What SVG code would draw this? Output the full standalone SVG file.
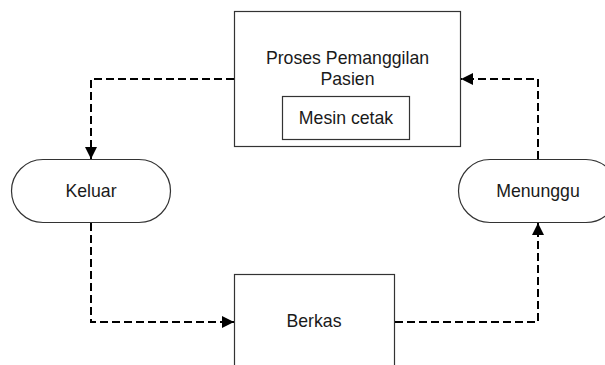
<svg xmlns="http://www.w3.org/2000/svg" width="605" height="365" viewBox="0 0 605 365">
  <style>
    .box { fill: #ffffff; stroke: #333333; stroke-width: 1.2; }
    .lbl { font-family: "Liberation Sans", Arial, sans-serif; font-size: 17.7px; fill: #1a1a1a; text-anchor: middle; }
    .flow { fill: none; stroke: #000000; stroke-width: 2; stroke-dasharray: 8 4; }
  </style>
  <defs>
    <marker id="arrow" viewBox="0 0 12 12" refX="12" refY="6" markerWidth="12" markerHeight="12" markerUnits="userSpaceOnUse" orient="auto">
      <path d="M0,0 L12,6 L0,12 Z" fill="#000000"/>
    </marker>
  </defs>
  <rect width="605" height="365" fill="#ffffff"/>

  <g id="proses-pemanggilan">
    <rect class="box" x="234.5" y="11.5" width="226" height="135"/>
    <text class="lbl" x="347.5" y="63.5">Proses Pemanggilan</text>
    <text class="lbl" x="347.5" y="84.5">Pasien</text>
  </g>

  <g id="mesin-cetak">
    <rect class="box" x="282.5" y="96.5" width="127" height="43"/>
    <text class="lbl" x="346" y="123.5">Mesin cetak</text>
  </g>

  <g id="keluar">
    <rect class="box" x="11.5" y="159.5" width="159" height="63" rx="31.5" ry="31.5"/>
    <text class="lbl" x="91" y="197">Keluar</text>
  </g>

  <g id="menunggu">
    <rect class="box" x="458.5" y="159.5" width="159" height="63" rx="31.5" ry="31.5"/>
    <text class="lbl" x="538" y="197">Menunggu</text>
  </g>

  <g id="berkas">
    <rect class="box" x="234.5" y="274.5" width="160" height="110"/>
    <text class="lbl" x="314" y="327">Berkas</text>
  </g>

  <g id="connectors">
    <path class="flow" d="M234,79 H91 V159" marker-end="url(#arrow)"/>
    <path class="flow" d="M91,223 V322 H234" marker-end="url(#arrow)"/>
    <path class="flow" d="M395,322 H538 V223" marker-end="url(#arrow)"/>
    <path class="flow" d="M538,159 V79 H461" marker-end="url(#arrow)"/>
  </g>
</svg>
